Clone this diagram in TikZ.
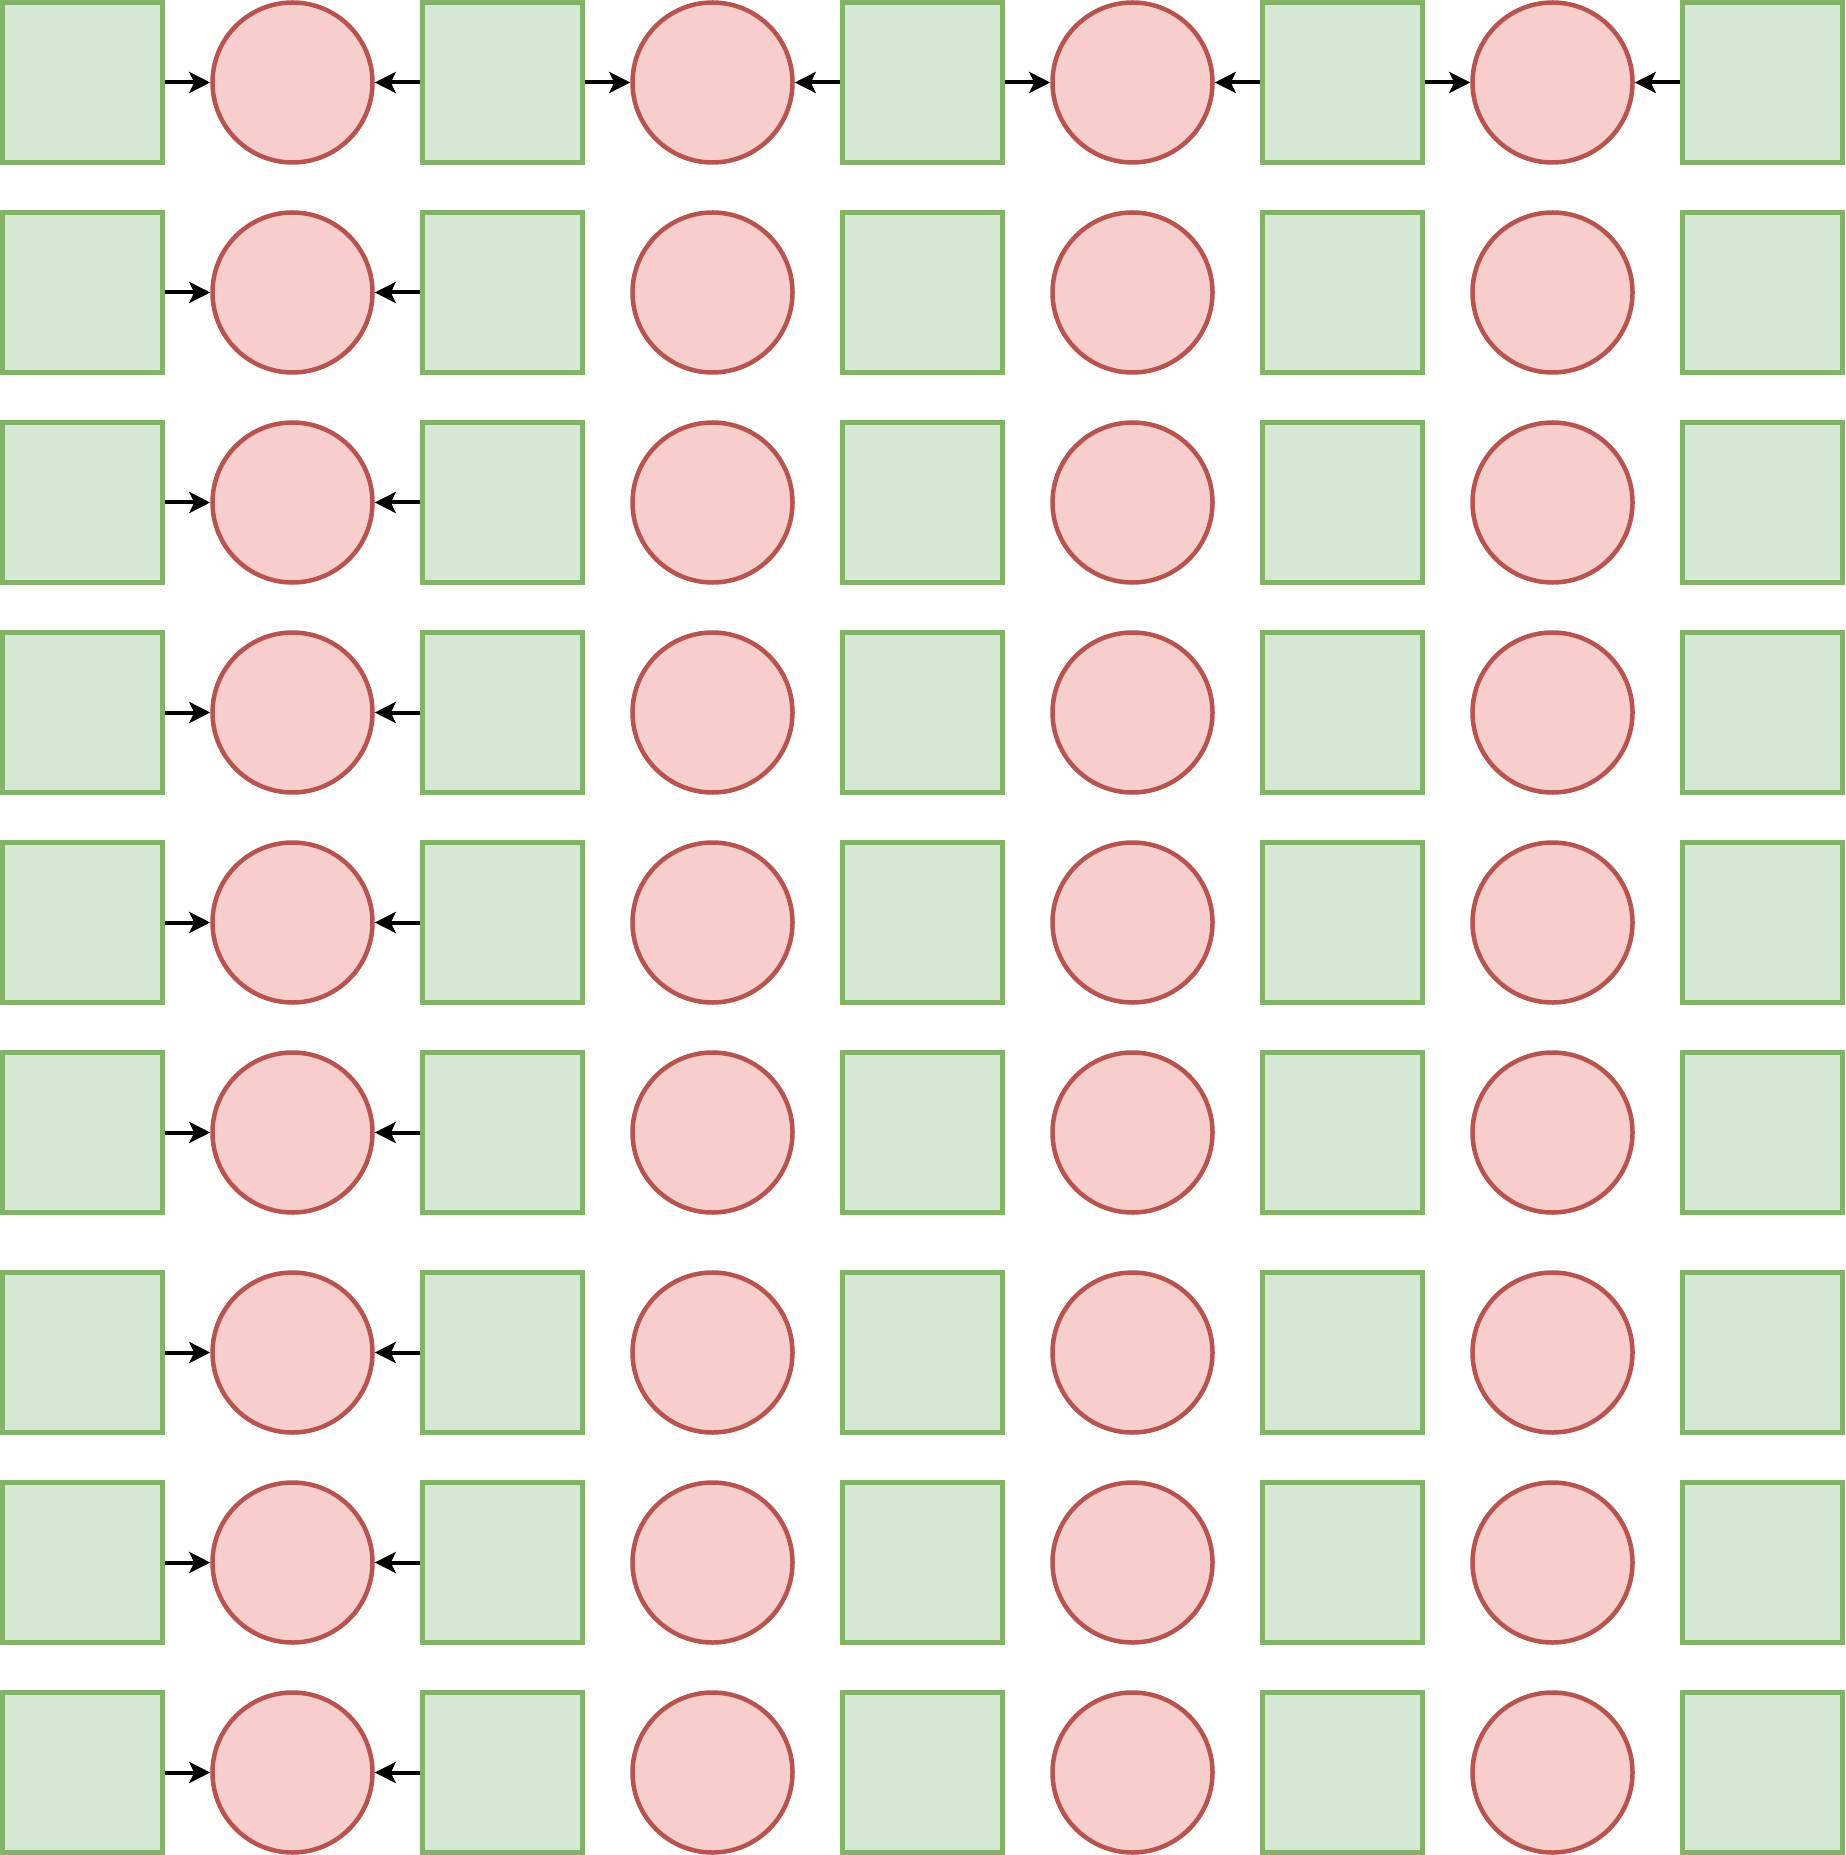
\documentclass[tikz,border=0pt]{standalone}
\usepackage{tikz}
\usetikzlibrary{arrows.meta}
\usepackage{xcolor}
\definecolor{boxfill}{HTML}{D5E8D4}
\definecolor{boxline}{HTML}{82B366}
\definecolor{dotfill}{HTML}{F8CECC}
\definecolor{dotline}{HTML}{B85450}

\begin{document}
\begin{tikzpicture}[x=0.5pt, y=-0.5pt,
        box/.style={draw=boxline, fill=boxfill, line width=2.25pt, minimum size=80pt, inner sep=0pt},
        dot/.style={draw=dotline, fill=dotfill, circle, line width=2.25pt, minimum size=80pt, inner sep=0pt},
        link/.style={-{Stealth[length=10.5pt, width=10.5pt, inset=2.5pt]}, line width=2pt, black}]

        \useasboundingbox (0,0) rectangle (1845,1855);

        % grid of boxes and dots
        \foreach \row/\y in {1/82.5, 2/292.5, 3/502.5, 4/712.5, 5/922.5, 6/1132.5, 7/1352.5, 8/1562.5, 9/1772.5} {
            \foreach \col in {0,2,4,6,8}
                \node[box] (n-\row-\col) at (82.5+210*\col, \y) {};
            \foreach \col in {1,3,5,7}
                \node[dot] (n-\row-\col) at (82.5+210*\col, \y) {};
        }

        % top row: every dot fed from both sides
        \foreach \l/\col/\rt in {0/1/2, 2/3/4, 4/5/6, 6/7/8} {
            \draw[link] (n-1-\l) to (n-1-\col);
            \draw[link] (n-1-\rt) to (n-1-\col);
        }

        % other rows: only the first dot
        \foreach \row in {2,...,9} {
            \draw[link] (n-\row-0) to (n-\row-1);
            \draw[link] (n-\row-2) to (n-\row-1);
        }

    \end{tikzpicture}
\end{document}
